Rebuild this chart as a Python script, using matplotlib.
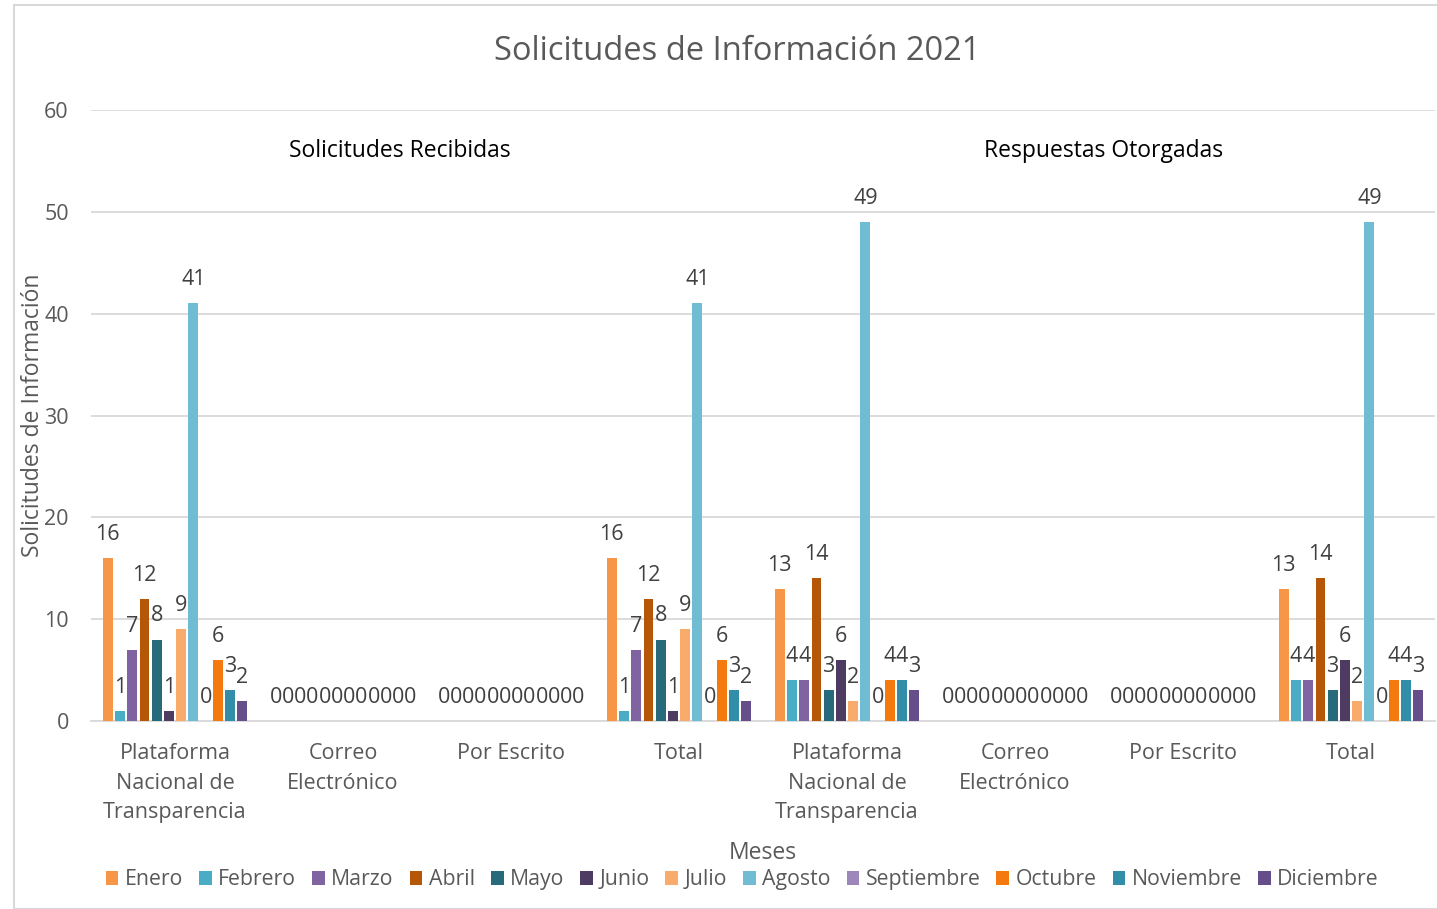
import numpy as np
import matplotlib.pyplot as plt
from matplotlib.patches import Rectangle

plt.rcParams['font.family'] = ['Open Sans', 'DejaVu Sans']

# categories along the x axis
categories = ['Plataforma\nNacional de\nTransparencia', 'Correo\nElectrónico', 'Por Escrito', 'Total',
              'Plataforma\nNacional de\nTransparencia', 'Correo\nElectrónico', 'Por Escrito', 'Total']
months = ['Enero', 'Febrero', 'Marzo', 'Abril', 'Mayo', 'Junio', 'Julio', 'Agosto',
          'Septiembre', 'Octubre', 'Noviembre', 'Diciembre']

# values per month: recibidas (PNT, correo, escrito, total) then respuestas (same)
recibidas_pnt = [16, 1, 7, 12, 8, 1, 9, 41, 0, 6, 3, 2]
recibidas_correo = [0] * 12
recibidas_escrito = [0] * 12
recibidas_total = [16, 1, 7, 12, 8, 1, 9, 41, 0, 6, 3, 2]
respuestas_pnt = [13, 4, 4, 14, 3, 6, 2, 49, 0, 4, 4, 3]
respuestas_correo = [0] * 12
respuestas_escrito = [0] * 12
respuestas_total = [13, 4, 4, 14, 3, 6, 2, 49, 0, 4, 4, 3]

groups = [recibidas_pnt, recibidas_correo, recibidas_escrito, recibidas_total,
          respuestas_pnt, respuestas_correo, respuestas_escrito, respuestas_total]
data = np.array(groups).T  # rows = months

colors = ['#F79646', '#4BACC6', '#8064A2', '#B65708', '#276A7C', '#4D3B62',
          '#F9AB6B', '#70BDD3', '#9C86BA', '#F47A10', '#328EA8', '#654E8A']

W, H = 1437, 909
fig = plt.figure(figsize=(W / 100, H / 100), dpi=100)
fig.patches.append(Rectangle((14 / W, 0), 1.2, (H - 5) / H, transform=fig.transFigure,
                             fill=False, edgecolor='#D9D9D9', linewidth=1.5))

ax = fig.add_axes([91 / W, 1 - 721 / H, (1435 - 91) / W, (721 - 110) / H])

x = np.arange(len(categories))
slot = 0.0729
bw = 0.058
for i, m in enumerate(months):
    pos = x + (i - 5.5) * slot
    ax.bar(pos, data[i], bw, color=colors[i], label=m, zorder=3)
    for px, v in zip(pos, data[i]):
        ax.annotate(str(v), (px, v), xytext=(0, 17), textcoords='offset points',
                    ha='center', va='center', fontsize=15.5, color='#404040')

ax.set_xlim(-0.5, len(categories) - 0.5)
ax.set_ylim(0, 60)
ax.set_yticks(range(0, 61, 10))
ax.grid(axis='y', color='#D9D9D9', linewidth=1.3, zorder=0)
ax.set_axisbelow(True)
for s in ['top', 'right', 'left']:
    ax.spines[s].set_visible(False)
ax.spines['bottom'].set_color('#D9D9D9')
ax.spines['bottom'].set_linewidth(1.3)
ax.tick_params(axis='both', length=0, labelsize=15.5, colors='#595959')
ax.tick_params(axis='y', pad=16)
ax.tick_params(axis='x', pad=16)
ax.set_xticks(x)
ax.set_xticklabels(categories, linespacing=1.52)

ax.set_title('Solicitudes de Información 2021', fontsize=23.5, color='#595959', pad=36,
             x=0.4807)
ax.set_ylabel('Solicitudes de Información', fontsize=16.5, color='#595959')
ax.yaxis.set_label_coords(-0.034, 0.5)
ax.set_xlabel('Meses', fontsize=16.5, color='#595959')
ax.xaxis.set_label_coords(0.4996, -0.197)

ax.text(1.34, 56.0, 'Solicitudes Recibidas', ha='center', va='center', fontsize=16.5, color='#000000')
ax.text(5.53, 56.0, 'Respuestas Otorgadas', ha='center', va='center', fontsize=16.5, color='#000000')

ax.legend(loc='center', bbox_to_anchor=(0.4844, -0.26), ncol=12, frameon=False, fontsize=15.3,
          handlelength=0.6, handleheight=0.6, handletextpad=0.3, columnspacing=0.75,
          labelcolor='#595959')

fig.savefig('out.png', dpi=100)
